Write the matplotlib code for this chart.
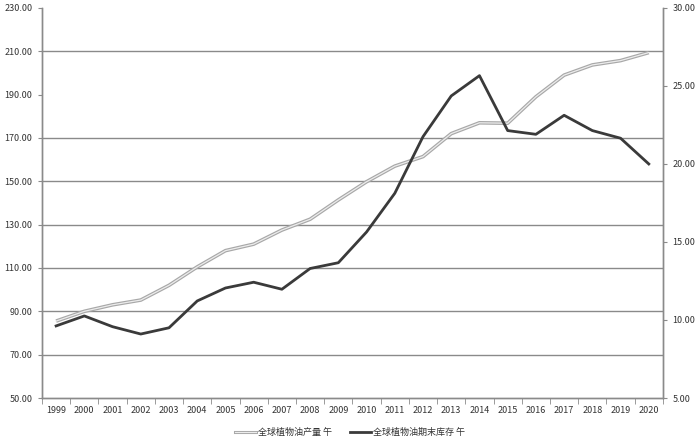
import numpy as np
import matplotlib.pyplot as plt
from matplotlib.lines import Line2D

plt.rcParams['font.family'] = ['Noto Sans CJK SC', 'DejaVu Sans']

# 年份与数据
years = [str(y) for y in range(1999, 2021)]
production = [85.5, 90.0, 93.0, 95.2, 102.0, 110.5, 118.0, 121.0, 127.5, 132.5,
              141.4, 149.8, 157.0, 161.4, 172.0, 177.0, 176.8, 189.0, 199.0, 203.7,
              205.7, 209.4]
stocks = [9.62, 10.26, 9.57, 9.10, 9.50, 11.22, 12.05, 12.42, 11.97, 13.30,
          13.67, 15.64, 18.12, 21.75, 24.36, 25.66, 22.14, 21.90, 23.12, 22.14,
          21.65, 20.00]
left_ticks = [50, 70, 90, 110, 130, 150, 170, 190, 210, 230]
right_ticks = [5, 10, 15, 20, 25, 30]
labels = ['全球植物油产量 午', '全球植物油期末库存 午']

fig = plt.figure(figsize=(7, 4.41), dpi=100)
ax = fig.add_axes([0.06, 0.0975, 0.887, 0.8845])
ax2 = ax.twinx()

x = np.arange(len(years))
grid_c = '#8a8a8a'
text_c = '#333333'

# 网格线（参考图中 190 没有网格线）
for v in left_ticks:
    if v in (50, 190, 230):
        continue
    ax.axhline(v, color=grid_c, lw=1.0, zorder=0)

ax.plot(x, production, color='#a8a8a8', lw=2.6, zorder=2, solid_capstyle='butt')
ax.plot(x, production, color='#ececec', lw=0.9, zorder=3)
ax2.plot(x, stocks, color='#3a3a3a', lw=2.0, zorder=3)

ax.set_xlim(-0.5, len(years) - 0.5)
ax.set_ylim(50, 230)
ax2.set_ylim(5, 30)
ax.set_yticks(left_ticks)
ax.set_yticklabels([f'{v:.2f}' for v in left_ticks])
ax2.set_yticks(right_ticks)
ax2.set_yticklabels([f'{v:.2f}' for v in right_ticks])

ax.set_xticks(x)
ax.set_xticklabels(years)
ax.set_xticks(np.arange(len(years) + 1) - 0.5, minor=True)
ax.tick_params(axis='x', which='major', length=0, labelsize=6.5, colors=text_c, pad=6)
ax.tick_params(axis='x', which='minor', length=4, color=grid_c)
ax.tick_params(axis='y', length=3, color=grid_c, labelsize=6.5, labelcolor=text_c, pad=4)
ax2.tick_params(axis='y', length=3, color=grid_c, labelsize=6.5, labelcolor=text_c, pad=4)

for a in (ax, ax2):
    a.spines['top'].set_visible(False)
    for s in ('left', 'right', 'bottom'):
        a.spines[s].set_color(grid_c)
        a.spines[s].set_linewidth(1.0)

h1 = Line2D([], [], color='#a8a8a8', lw=2.2)
h1b = Line2D([], [], color='#ececec', lw=0.8)
h2 = Line2D([], [], color='#3a3a3a', lw=2.0)
fig.legend([(h1, h1b), h2], labels, loc='lower center', bbox_to_anchor=(0.5, -0.01),
           ncol=2, frameon=False, fontsize=6.5, handlelength=2.3, columnspacing=2.0,
           handletextpad=0.2, labelcolor=text_c)

fig.savefig('out.png', dpi=100)
